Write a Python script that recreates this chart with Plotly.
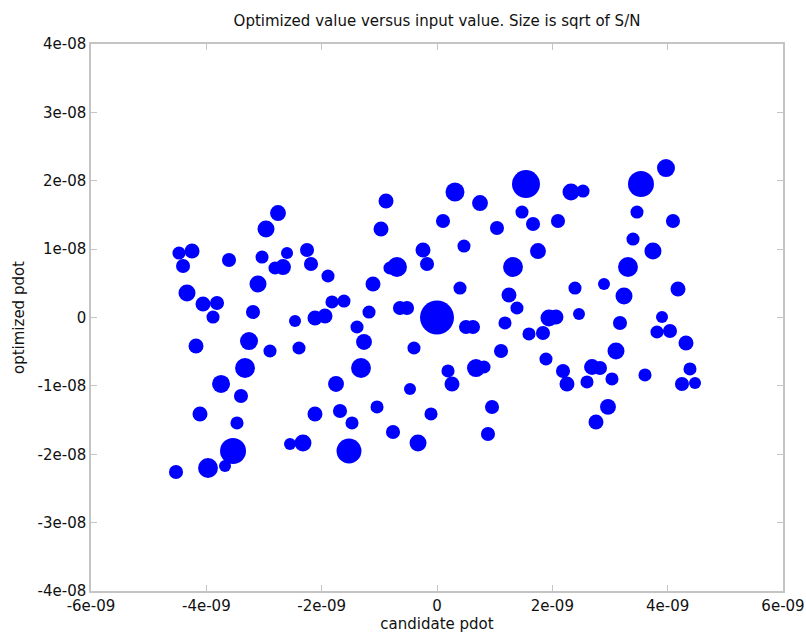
import math
import plotly.graph_objects as go

# candidate pdot (units of 1e-9), optimized pdot (units of 1e-8), signal-to-noise
cand_pdot_e9 = [
    -2.757, -2.965, -4.474, -4.248, -4.404, -3.607, -3.034, -2.601, -2.809, -2.670,
    -2.254, -2.185, -3.104, -4.335, -4.058, -3.815, -3.884, -3.191, -2.462, -2.116,
    -1.942, -4.179, -3.260, -2.896, -2.393, -3.329, -3.745, -3.399, -4.110, -3.468,
    -3.537, -3.676, -3.971, -4.526, -2.549, -2.324, -2.116, -1.751, -1.318, -1.682,
    -1.474, -1.040, -1.526, -0.763, -0.329, -0.468, -0.104, 0.191, 0.260, 0.676,
    0.815, 0.954, 0.884, -1.266, -1.387, -0.399, 1.110, -1.179, -0.642, -0.520,
    0.000, 0.503, 0.624, -1.821, -1.613, -1.890, -1.110, -0.815, -0.694, -0.243,
    -0.173, -0.884, -0.971, 0.104, 0.312, 0.746, 0.468, 0.399, 1.040, 1.179,
    1.248, 1.387, 1.318, 1.543, 1.474, 1.665, 1.751, 1.595, 1.838, 1.942,
    2.063, 1.890, 2.324, 2.532, 2.098, 2.462, 2.393, 2.896, 2.185, 2.254,
    2.688, 2.826, 2.601, 3.034, 2.965, 2.757, 3.104, 3.173, 3.243, 3.312,
    3.399, 3.468, 3.537, 3.971, 3.745, 4.092, 4.179, 3.902, 3.815, 4.040,
    4.318, 3.607, 4.387, 4.248, 4.474,
]
opt_pdot_e8 = [
    1.528, 1.294, 0.943, 0.972, 0.753, 0.841, 0.884, 0.943, 0.724, 0.738,
    0.987, 0.782, 0.490, 0.358, 0.197, 0.212, 0.007, 0.080, -0.051, -0.007,
    0.022, -0.417, -0.344, -0.490, -0.446, -0.739, -0.972, -1.148, -1.411, -1.542,
    -1.952, -2.171, -2.200, -2.259, -1.849, -1.835, -1.411, -0.972, -0.739, -1.367,
    -1.542, -1.308, -1.952, -1.674, -1.835, -1.045, -1.411, -0.782, -0.972, -0.739,
    -0.724, -1.308, -1.703, -0.358, -0.139, -0.446, -0.490, 0.080, 0.139, 0.139,
    0.000, -0.139, -0.139, 0.227, 0.241, 0.607, 0.490, 0.724, 0.738, 0.987,
    0.782, 1.703, 1.294, 1.411, 1.835, 1.674, 1.045, 0.431, 1.308, -0.080,
    0.329, 0.139, 0.738, 1.952, 1.542, 1.367, 0.972, -0.241, -0.227, -0.007,
    0.007, -0.607, 1.835, 1.849, 1.411, 0.051, 0.431, 0.490, -0.782, -0.972,
    -0.724, -0.738, -0.943, -0.899, -1.308, -1.528, -0.490, -0.080, 0.314, 0.738,
    1.148, 1.542, 1.952, 2.186, 0.972, 1.411, 0.417, 0.007, -0.212, -0.197,
    -0.373, -0.840, -0.753, -0.972, -0.958,
]
snr = [
    28, 32, 19, 25, 22, 22, 19, 16, 19, 28,
    22, 22, 32, 32, 25, 22, 19, 22, 16, 25,
    25, 25, 36, 19, 19, 44, 36, 22, 25, 19,
    75, 16, 44, 22, 16, 32, 25, 28, 44, 22,
    19, 19, 69, 22, 32, 16, 19, 19, 25, 36,
    19, 22, 22, 28, 19, 19, 22, 19, 22, 22,
    128, 22, 22, 19, 19, 19, 25, 19, 44, 25,
    22, 25, 25, 22, 40, 28, 19, 19, 22, 19,
    25, 19, 44, 87, 19, 22, 28, 19, 22, 32,
    25, 19, 32, 19, 22, 16, 19, 16, 22, 25,
    28, 22, 19, 19, 28, 25, 32, 22, 32, 44,
    19, 19, 75, 36, 32, 22, 25, 16, 19, 22,
    25, 19, 19, 22, 16,
]

x_tick_vals = [-6e-9, -4e-9, -2e-9, 0, 2e-9, 4e-9, 6e-9]
x_tick_text = ["-6e-09", "-4e-09", "-2e-09", "0", "2e-09", "4e-09", "6e-09"]
y_tick_vals = [-4e-8, -3e-8, -2e-8, -1e-8, 0, 1e-8, 2e-8, 3e-8, 4e-8]
y_tick_text = ["-4e-08", "-3e-08", "-2e-08", "-1e-08", "0", "1e-08", "2e-08", "3e-08", "4e-08"]

x_vals = [v * 1e-9 for v in cand_pdot_e9]
y_vals = [v * 1e-8 for v in opt_pdot_e8]
sizes = [3.0 * math.sqrt(s) for s in snr]

FONT = "DejaVu Sans"
FRAME = "#c4c4c4"
TEXT = "#111111"

fig = go.Figure(
    go.Scatter(
        x=x_vals,
        y=y_vals,
        mode="markers",
        marker=dict(size=sizes, sizemode="diameter", color="#0000ff",
                    opacity=1, line=dict(width=0)),
        hoverinfo="x+y",
    )
)

axis_common = dict(
    showgrid=False,
    zeroline=False,
    showline=True,
    linecolor=FRAME,
    linewidth=1.5,
    mirror="ticks",
    ticks="inside",
    ticklen=6,
    tickwidth=1,
    tickcolor=FRAME,
    automargin=False,
    tickfont=dict(family=FONT, size=15, color=TEXT),
)

fig.update_layout(
    width=806,
    height=635,
    paper_bgcolor="white",
    plot_bgcolor="white",
    showlegend=False,
    margin=dict(l=91, r=23, t=44, b=44),
    title=dict(
        text="Optimized value versus input value. Size is sqrt of S/N",
        x=(91 + 783) / 2 / 806,
        xanchor="center",
        y=1 - 21 / 635,
        yanchor="middle",
        font=dict(family=FONT, size=15, color=TEXT),
    ),
    xaxis=dict(
        range=[-6e-9, 6e-9],
        tickvals=x_tick_vals,
        ticktext=x_tick_text,
        title=dict(text="candidate pdot", standoff=5,
                   font=dict(family=FONT, size=15, color=TEXT)),
        **axis_common,
    ),
    yaxis=dict(
        range=[-4e-8, 4e-8],
        tickvals=y_tick_vals,
        ticktext=y_tick_text,
        title=dict(text="optimized pdot", standoff=9,
                   font=dict(family=FONT, size=15, color=TEXT)),
        **axis_common,
    ),
)

fig.write_html("out.html")
